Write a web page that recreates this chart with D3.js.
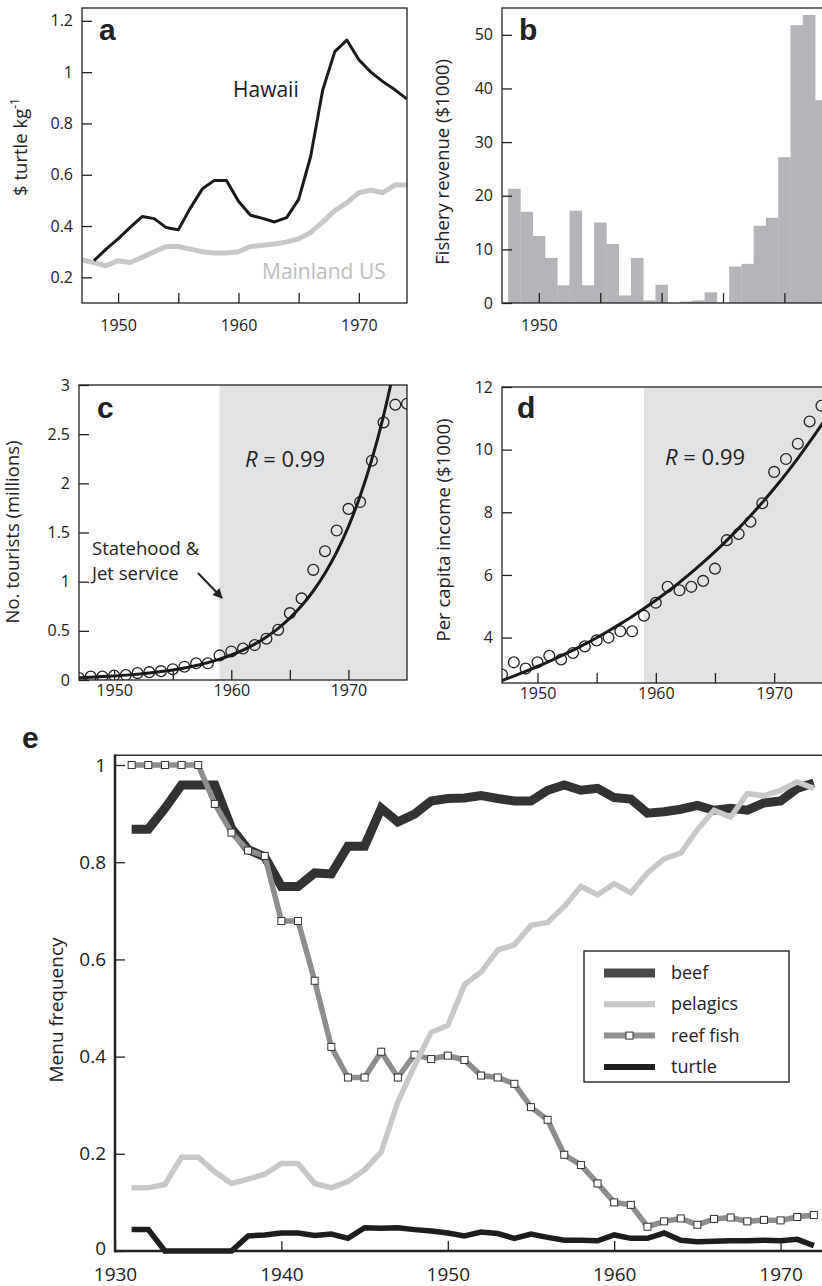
<!DOCTYPE html>
<html>
<head>
<meta charset="utf-8">
<script src="https://cdn.jsdelivr.net/npm/d3@7/dist/d3.min.js"></script>
<style>
  body { margin: 0; background: #fff; }
  svg { display: block; font-family: "Open Sans", sans-serif; }
  .tick line { stroke: #222; stroke-width: 1.3; }
  .tick text { fill: #222; }
</style>
</head>
<body>
<svg id="chart" width="822" height="1286"></svg>
<script>
// ---- panel a: turtle price
const hawaiiYears = [1948,1949,1950,1951,1952,1953,1954,1955,1956,1957,1958,1959,1960,1961,1962,1963,1964,1965,1966,1967,1968,1969,1970,1971,1972,1973,1974];
const hawaiiPrice = [0.265,0.31,0.35,0.395,0.437,0.429,0.394,0.385,0.47,0.545,0.578,0.578,0.497,0.442,0.43,0.416,0.433,0.504,0.672,0.931,1.08,1.125,1.048,1.0,0.963,0.931,0.895];
const mainlandYears = [1947,1948,1949,1950,1951,1952,1953,1954,1955,1956,1957,1958,1959,1960,1961,1962,1963,1964,1965,1966,1967,1968,1969,1970,1971,1972,1973,1974];
const mainlandPrice = [0.268,0.258,0.245,0.265,0.258,0.278,0.30,0.32,0.32,0.31,0.30,0.295,0.295,0.30,0.32,0.325,0.33,0.338,0.35,0.375,0.416,0.46,0.49,0.53,0.54,0.53,0.56,0.56];

// ---- panel b: fishery revenue
const revenueYears = [1948,1949,1950,1951,1952,1953,1954,1955,1956,1957,1958,1959,1960,1961,1962,1963,1964,1965,1966,1967,1968,1969,1970,1971,1972,1973];
const revenue = [21.3,17.0,12.5,8.4,3.3,17.2,3.3,15.0,11.0,1.4,8.4,0.5,3.4,0,0.3,0.5,2.0,0,6.8,7.3,14.4,15.9,27.2,51.8,53.7,37.8];

// ---- panel c: tourists
const tourYears = [1947,1948,1949,1950,1951,1952,1953,1954,1955,1956,1957,1958,1959,1960,1961,1962,1963,1964,1965,1966,1967,1968,1969,1970,1971,1972,1973,1974,1975];
const tourists = [0.02,0.035,0.035,0.045,0.05,0.07,0.08,0.09,0.11,0.135,0.17,0.17,0.25,0.29,0.32,0.355,0.42,0.51,0.68,0.83,1.12,1.31,1.52,1.74,1.81,2.23,2.62,2.80,2.81];
const tourFit = [0.024, 0.1815];   // a, b of a*exp(b*(t-1947))

// ---- panel d: per capita income
const incomeYears = [1947,1948,1949,1950,1951,1952,1953,1954,1955,1956,1957,1958,1959,1960,1961,1962,1963,1964,1965,1966,1967,1968,1969,1970,1971,1972,1973,1974];
const income = [2.82,3.21,3.01,3.21,3.42,3.30,3.51,3.72,3.91,4.0,4.2,4.2,4.70,5.11,5.62,5.51,5.62,5.81,6.20,7.11,7.31,7.70,8.29,9.29,9.70,10.19,10.90,11.40];
const incomeFit = [2.63, 0.0523];

const shadeStart = 1959;

// ---- panel e: menu frequency
const menuYears = [1931,1932,1933,1934,1935,1936,1937,1938,1939,1940,1941,1942,1943,1944,1945,1946,1947,1948,1949,1950,1951,1952,1953,1954,1955,1956,1957,1958,1959,1960,1961,1962,1963,1964,1965,1966,1967,1968,1969,1970,1971,1972];
const beef = [0.868,0.868,0.911,0.959,0.959,0.959,0.87,0.826,0.811,0.75,0.75,0.778,0.776,0.833,0.833,0.911,0.883,0.899,0.926,0.931,0.932,0.937,0.931,0.926,0.926,0.948,0.959,0.948,0.952,0.933,0.93,0.901,0.904,0.909,0.917,0.907,0.911,0.907,0.922,0.926,0.952,0.963];
const pelagics = [0.13,0.13,0.137,0.193,0.193,0.163,0.139,0.148,0.158,0.18,0.18,0.139,0.13,0.143,0.167,0.204,0.307,0.381,0.45,0.464,0.548,0.574,0.619,0.63,0.67,0.676,0.709,0.75,0.733,0.756,0.737,0.778,0.807,0.819,0.867,0.907,0.893,0.941,0.937,0.948,0.965,0.952];
const reefFish = [1,1,1,1,1,0.92,0.861,0.824,0.813,0.679,0.679,0.556,0.42,0.357,0.357,0.41,0.357,0.404,0.395,0.402,0.393,0.361,0.357,0.344,0.296,0.27,0.198,0.177,0.139,0.10,0.095,0.05,0.061,0.067,0.054,0.066,0.069,0.061,0.064,0.063,0.07,0.074];
const turtle = [0.044,0.044,0,0,0,0,0,0.031,0.033,0.037,0.037,0.032,0.035,0.026,0.048,0.047,0.048,0.044,0.041,0.037,0.031,0.039,0.036,0.026,0.035,0.028,0.022,0.022,0.021,0.033,0.026,0.026,0.037,0.022,0.019,0.02,0.021,0.021,0.022,0.021,0.024,0.011];
const legendNames = ["beef", "pelagics", "reef fish", "turtle"];

const svg = d3.select("#chart");
const defs = svg.append("defs");
let clipId = 0;

function panel(xd, xr, yd, yr) {
  const x = d3.scaleLinear().domain(xd).range(xr);
  const y = d3.scaleLinear().domain(yd).range(yr);
  const id = "clip" + (clipId++);
  defs.append("clipPath").attr("id", id).append("rect")
    .attr("x", xr[0]).attr("y", yr[1])
    .attr("width", xr[1] - xr[0]).attr("height", yr[0] - yr[1]);
  const g = svg.append("g");
  const plot = g.append("g").attr("clip-path", "url(#" + id + ")");
  return { g, plot, x, y };
}

function axes(p, xTicks, xLabels, xPad, yTicks, yFmt, fs) {
  const xa = d3.axisBottom(p.x).tickValues(xTicks).tickSize(-10).tickPadding(xPad)
    .tickFormat(d => xLabels.includes(d) ? String(d) : "");
  const gx = p.g.append("g").attr("transform", "translate(0," + p.y.range()[0] + ")")
    .call(xa).attr("font-family", null).attr("font-size", fs)
    .call(s => s.select(".domain").remove());
  const ya = d3.axisLeft(p.y).tickValues(yTicks).tickSize(-10).tickPadding(9).tickFormat(yFmt);
  const gy = p.g.append("g").attr("transform", "translate(" + p.x.range()[0] + ",0)")
    .call(ya).attr("font-family", null).attr("font-size", fs)
    .call(s => s.select(".domain").remove());
  return { gx, gy };
}

function frame(p) {
  const [x0, x1] = p.x.range(), [y0, y1] = p.y.range();
  p.g.append("rect").attr("x", x0).attr("y", y1).attr("width", x1 - x0).attr("height", y0 - y1)
    .attr("fill", "none").attr("stroke", "#222").attr("stroke-width", 1.3);
}

function letter(t, x, y) {
  svg.append("text").attr("x", x).attr("y", y).text(t)
    .style("font-family", "'Liberation Sans', Arial, sans-serif")
    .style("font-weight", "bold").style("font-size", "30px").attr("fill", "#222");
}

function yTitle(x, y, t, fs) {
  return svg.append("text").attr("transform", "translate(" + x + "," + y + ") rotate(-90)")
    .attr("text-anchor", "middle").style("font-size", fs + "px").attr("fill", "#222").text(t);
}

const fmt = d => String(d);

// ================= a
const pa = panel([1947, 1974], [82, 407], [0.1, 1.25], [303, 8]);
const lineA = d3.line().x(d => pa.x(d[0])).y(d => pa.y(d[1]));
pa.plot.append("path").datum(d3.zip(mainlandYears, mainlandPrice)).attr("d", lineA)
  .attr("fill", "none").attr("stroke", "#c8c8c8").attr("stroke-width", 5).attr("stroke-linejoin", "round");
pa.plot.append("path").datum(d3.zip(hawaiiYears, hawaiiPrice)).attr("d", lineA)
  .attr("fill", "none").attr("stroke", "#1a1a1a").attr("stroke-width", 3).attr("stroke-linejoin", "round");
axes(pa, [1950, 1955, 1960, 1965, 1970], [1950, 1960, 1970], 17, [0.2, 0.4, 0.6, 0.8, 1, 1.2], fmt, 16);
frame(pa);
svg.append("text").attr("x", 233).attr("y", 97).text("Hawaii").style("font-size", "21px").attr("fill", "#1a1a1a");
svg.append("text").attr("x", 262).attr("y", 279).text("Mainland US").style("font-size", "21px").attr("fill", "#bdbdbd");
letter("a", 99, 40);
const ta = yTitle(27, 147, "$ turtle kg", 18.5);
ta.append("tspan").attr("baseline-shift", "super").style("font-size", "12px").text("-1");

// ================= b
const pb = panel([1947, 1974], [502, 833.5], [0, 55], [303, 8]);
const bw = pb.x(1948) - pb.x(1947);
pb.plot.selectAll("rect.bar").data(d3.zip(revenueYears, revenue)).join("rect")
  .attr("class", "bar")
  .attr("x", d => pb.x(d[0] - 0.5)).attr("width", bw + 0.3)
  .attr("y", d => pb.y(d[1])).attr("height", d => pb.y(0) - pb.y(d[1]))
  .attr("fill", "#b4b5b8");
axes(pb, [1950, 1955, 1960, 1965, 1970], [1950], 17, [0, 10, 20, 30, 40, 50], fmt, 16);
frame(pb);
letter("b", 519, 40);
yTitle(449, 162, "Fishery revenue ($1000)", 18.5);

// ================= c
const pc = panel([1947, 1975], [79, 407], [0, 3], [680, 385]);
pc.plot.append("rect").attr("x", pc.x(shadeStart)).attr("y", pc.y(3))
  .attr("width", pc.x(1975) - pc.x(shadeStart)).attr("height", pc.y(0) - pc.y(3)).attr("fill", "#e1e2e4");
pc.plot.selectAll("circle").data(d3.zip(tourYears, tourists)).join("circle")
  .attr("cx", d => pc.x(d[0])).attr("cy", d => pc.y(d[1])).attr("r", 5.4)
  .attr("fill", "none").attr("stroke", "#222").attr("stroke-width", 1.3);
const fitC = tourYears.map(t => [t, tourFit[0] * Math.exp(tourFit[1] * (t - 1947))]);
pc.plot.append("path").datum(fitC)
  .attr("d", d3.line().x(d => pc.x(d[0])).y(d => pc.y(d[1])).curve(d3.curveMonotoneX))
  .attr("fill", "none").attr("stroke", "#1a1a1a").attr("stroke-width", 3);
axes(pc, [1950, 1955, 1960, 1965, 1970], [1950, 1960, 1970], 5, [0, 0.5, 1, 1.5, 2, 2.5, 3], fmt, 16);
frame(pc);
letter("c", 97, 418);
yTitle(19, 532, "No. tourists (millions)", 18.5);
const rc = svg.append("text").attr("x", 245).attr("y", 467).style("font-size", "22px").attr("fill", "#222");
rc.append("tspan").style("font-style", "italic").text("R");
rc.append("tspan").text(" = 0.99");
svg.append("text").attr("x", 92).attr("y", 555).style("font-size", "18.5px").attr("fill", "#222").text("Statehood &");
svg.append("text").attr("x", 92).attr("y", 580).style("font-size", "18.5px").attr("fill", "#222").text("Jet service");
defs.append("marker").attr("id", "arrow").attr("viewBox", "0 0 10 10").attr("refX", 9).attr("refY", 5)
  .attr("markerWidth", 5).attr("markerHeight", 5).attr("orient", "auto")
  .append("path").attr("d", "M0,0L10,5L0,10z").attr("fill", "#222");
svg.append("line").attr("x1", 198).attr("y1", 573).attr("x2", 222).attr("y2", 598)
  .attr("stroke", "#222").attr("stroke-width", 2).attr("marker-end", "url(#arrow)");

// ================= d
const pd = panel([1947, 1975], [502, 833.3], [2.55, 12], [683, 387]);
pd.plot.append("rect").attr("x", pd.x(shadeStart)).attr("y", pd.y(12))
  .attr("width", pd.x(1975) - pd.x(shadeStart)).attr("height", pd.y(2.55) - pd.y(12)).attr("fill", "#e1e2e4");
pd.plot.selectAll("circle").data(d3.zip(incomeYears, income)).join("circle")
  .attr("cx", d => pd.x(d[0])).attr("cy", d => pd.y(d[1])).attr("r", 5.4)
  .attr("fill", "none").attr("stroke", "#222").attr("stroke-width", 1.3);
const fitD = tourYears.map(t => [t, incomeFit[0] * Math.exp(incomeFit[1] * (t - 1947))]);
pd.plot.append("path").datum(fitD)
  .attr("d", d3.line().x(d => pd.x(d[0])).y(d => pd.y(d[1])).curve(d3.curveMonotoneX))
  .attr("fill", "none").attr("stroke", "#1a1a1a").attr("stroke-width", 3);
axes(pd, [1950, 1955, 1960, 1965, 1970], [1950, 1960, 1970], 5, [4, 6, 8, 10, 12], fmt, 16);
frame(pd);
letter("d", 517, 418);
yTitle(450, 530, "Per capita income ($1000)", 18.5);
const rd = svg.append("text").attr("x", 665).attr("y", 465).style("font-size", "22px").attr("fill", "#222");
rd.append("tspan").style("font-style", "italic").text("R");
rd.append("tspan").text(" = 0.99");

// ================= e
const pe = panel([1930, 1973], [115, 830.5], [0, 1.02], [1251, 755.3]);
const lineE = d3.line().x(d => pe.x(d[0])).y(d => pe.y(d[1]));
const series = [
  { vals: beef, color: "#333333", w: 9 },
  { vals: reefFish, color: "#8e8e8e", w: 5.5, squares: true },
  { vals: pelagics, color: "#c8c8c8", w: 5.5 },
  { vals: turtle, color: "#1e1e1e", w: 5.5 }
];
series.forEach(s => {
  const pts = d3.zip(menuYears, s.vals);
  pe.g.append("path").datum(pts).attr("d", lineE)
    .attr("fill", "none").attr("stroke", s.color).attr("stroke-width", s.w);
  if (s.squares) {
    pe.g.selectAll("rect.sq").data(pts).join("rect").attr("class", "sq")
      .attr("x", d => pe.x(d[0]) - 3.5).attr("y", d => pe.y(d[1]) - 3.5)
      .attr("width", 7).attr("height", 7)
      .attr("fill", "#fff").attr("stroke", "#333").attr("stroke-width", 1);
  }
});
const axE = axes(pe, [1930, 1940, 1950, 1960, 1970], [1930, 1940, 1950, 1960, 1970], 17, [0, 0.2, 0.4, 0.6, 0.8, 1], fmt, 19);
// lift the "0" label a little so it clears "1930"
axE.gy.selectAll(".tick text").filter(d => d === 0).attr("dy", "0.18em");
pe.g.append("line").attr("x1", 115).attr("x2", 822).attr("y1", 755.3).attr("y2", 755.3)
  .attr("stroke", "#333").attr("stroke-width", 1.5);
pe.g.append("line").attr("x1", 115).attr("x2", 115).attr("y1", 754.5).attr("y2", 1252.3)
  .attr("stroke", "#222").attr("stroke-width", 2.5);
pe.g.append("line").attr("x1", 114).attr("x2", 822).attr("y1", 1251).attr("y2", 1251)
  .attr("stroke", "#222").attr("stroke-width", 2.5);
letter("e", 22, 748);
yTitle(63, 1010, "Menu frequency", 19);

// legend
const lg = svg.append("g");
lg.append("rect").attr("x", 584).attr("y", 951).attr("width", 205).attr("height", 131)
  .attr("fill", "#fff").attr("stroke", "#333").attr("stroke-width", 1.5);
const legStyles = [
  { color: "#4a4a4c", w: 9 },
  { color: "#c8c8c8", w: 6 },
  { color: "#919191", w: 6, square: true },
  { color: "#1e1e1e", w: 6 }
];
legendNames.forEach((n, i) => {
  const yy = 973 + i * 31.3;
  lg.append("line").attr("x1", 604).attr("x2", 655).attr("y1", yy).attr("y2", yy)
    .attr("stroke", legStyles[i].color).attr("stroke-width", legStyles[i].w);
  if (legStyles[i].square) {
    lg.append("rect").attr("x", 626).attr("y", yy - 3.5).attr("width", 7).attr("height", 7)
      .attr("fill", "#fff").attr("stroke", "#333").attr("stroke-width", 1);
  }
  lg.append("text").attr("x", 671).attr("y", yy + 6).style("font-size", "18px").attr("fill", "#222").text(n);
});
</script>
</body>
</html>
